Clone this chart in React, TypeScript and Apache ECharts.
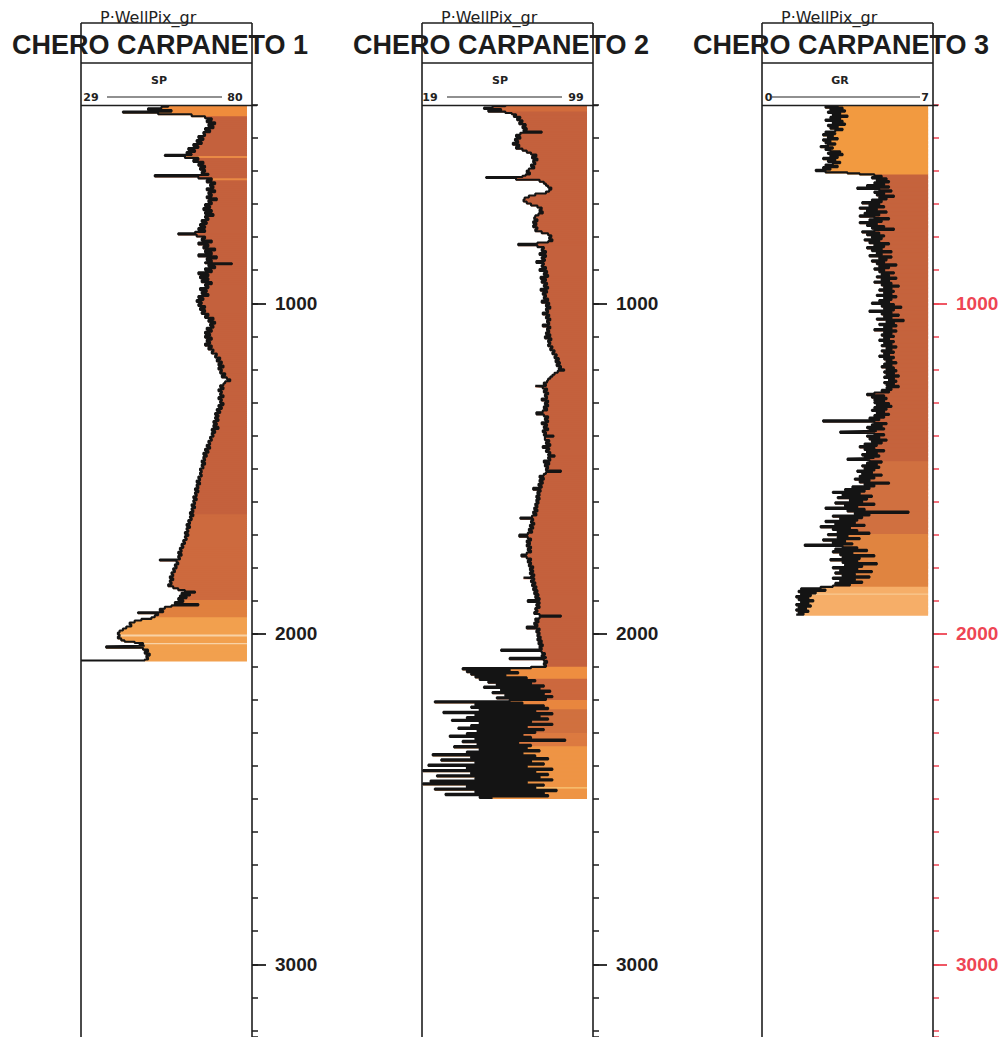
import React, { useEffect, useRef } from 'react';
import * as echarts from 'echarts';

// ---------- texts ----------
const PROJECT = 'P·WellPix_gr';
const WELLS = ['CHERO CARPANETO 1', 'CHERO CARPANETO 2', 'CHERO CARPANETO 3'];
const CURVES = ['SP', 'SP', 'GR'];
const SCALE_MIN = [29, 19, 0];
const SCALE_MAX = [80, 99, 7];
const FILL_LIMIT = [78.5, 96.2, 6.8];
const DEPTH_MIN = 400;
const DEPTH_MAX = 3220;
const DEPTH_STEP = 100;
const MAJOR_DEPTHS = [1000, 2000, 3000];

// ---------- curves: [depth m, value] ----------
const well1: [number, number][] = [
  [400,55],[405,53],[410,49],[415,56],[420,41.5],[423,52],[428,62],[434,66],[440,68],[446,66.5],[452,69],[458,67],[464,68.5],[470,66],[476,67.5],[482,65.5],[488,66],[494,64],[500,65.5],[506,63.5],[512,65],[518,62.5],[524,64],[530,61],[536,63],[542,60.5],[548,62],[551,54],[554,60],[560,64],[566,62.5],[572,65.5],[578,64],[584,66],[590,64.5],[596,66],[602,65],[608,67],[612,51],[616,64],[622,68],[628,66.5],[634,69],[640,67.5],[646,68.5],[652,66.5],[658,69],[664,67],[670,68],[676,66.5],[682,69.5],[688,67],[694,68],[700,66],[706,67.5],[712,65.5],[718,68],[724,66],[730,68.5],[736,66],[742,67],[748,65],[754,66.5],[760,64.5],[766,66],[772,64],[778,66],[784,63],[788,58],[792,63.5],[798,66],[804,65],[810,68],[816,64],[822,67],[828,65.5],[834,69],[840,66],[846,68],[852,64],[858,69.5],[864,66.5],[870,68],[876,66],[879,74],[882,67],[888,69],[894,66],[900,68],[906,64],[912,67],[918,64.5],[924,67],[930,65],[936,68],[942,66],[948,67],[954,64.5],[960,66.5],[966,65],[972,67],[978,64],[984,65.5],[990,63.5],[996,65],[1002,64],[1008,66],[1014,64.5],[1020,66],[1026,65],[1032,67],[1038,66],[1044,68.5],[1050,67],[1056,69],[1062,67.5],[1068,68.5],[1074,66.5],[1080,68],[1086,66],[1092,67.5],[1098,66],[1104,68],[1110,66.5],[1116,67.5],[1122,66],[1128,68],[1134,67],[1140,68.5],[1146,68],[1152,69.5],[1158,69],[1164,70.5],[1170,69.5],[1176,71],[1182,70],[1188,71.5],[1194,70],[1200,71],[1206,70.5],[1212,72],[1218,71],[1224,72.5],[1230,73.5],[1236,72],[1242,71.5],[1248,70.5],[1254,71.5],[1260,70],[1266,71],[1272,70.5],[1278,71.5],[1284,70],[1290,71],[1296,70.5],[1302,71.5],[1308,70],[1314,71],[1320,69.5],[1326,70.5],[1332,69],[1338,70],[1344,69],[1350,70],[1356,68.5],[1362,69.5],[1368,68.5],[1374,70],[1380,68],[1386,69],[1392,68],[1398,68.5],[1404,67.5],[1410,68],[1416,67],[1422,67.5],[1428,66.5],[1434,67.5],[1440,66],[1446,67],[1452,65.5],[1458,66.5],[1464,65.5],[1470,66],[1476,65],[1482,66],[1488,65],[1494,65.5],[1500,64.5],[1506,65],[1512,64.5],[1518,65],[1524,64],[1530,64.5],[1536,63.5],[1542,64.5],[1548,63.5],[1554,64],[1560,63],[1566,64],[1572,63],[1578,63.5],[1584,62.5],[1590,63.5],[1596,62.5],[1602,63],[1608,62],[1614,63],[1620,62],[1626,62.5],[1632,61.5],[1638,62.5],[1644,61.5],[1650,62],[1656,61],[1662,61.5],[1668,60.5],[1674,61.5],[1680,60.5],[1686,61],[1692,60],[1698,61],[1704,60],[1710,60.5],[1716,59.5],[1722,60],[1728,59],[1734,59.5],[1740,58.5],[1746,59],[1752,58],[1758,59],[1764,58],[1770,58.5],[1775,52.5],[1778,57.5],[1784,58],[1790,57],[1796,57.5],[1802,56.5],[1808,57],[1814,56],[1820,56.5],[1826,55.5],[1832,56.5],[1838,55.5],[1844,56],[1850,55],[1856,56.5],[1862,58],[1868,60],[1872,63],[1876,59],[1880,61.5],[1884,58.5],[1888,60.5],[1892,58],[1898,59.5],[1904,57],[1910,64],[1914,56],[1918,54],[1924,52.5],[1930,53.5],[1935,46],[1938,52],[1944,51],[1950,50],[1955,47],[1960,45],[1966,43.5],[1972,44],[1978,42.5],[1984,41.5],[1990,40.5],[1996,40],[2002,40.5],[2008,40],[2014,41],[2020,42],[2024,45],[2028,47.5],[2032,46.5],[2036,48],[2038,36.5],[2042,47.5],[2048,49],[2054,48],[2060,49.5],[2066,48.5],[2072,49],[2078,48],[2081,29]
];

const well2: [number, number][] = [
  [400,58],[404,52],[408,48],[412,56],[416,50],[420,58],[424,61],[428,63],[432,62],[436,65],[440,63.5],[446,66],[452,64.5],[458,67.5],[464,66],[470,68],[476,66.5],[480,75],[484,65],[490,63],[496,65],[502,62.5],[508,64],[514,61.5],[520,64.5],[526,63],[532,66],[538,68],[544,70],[550,72.5],[556,70.5],[562,73],[568,71],[574,72],[580,70],[586,71.5],[592,69],[598,68],[604,69.5],[610,67.5],[614,66],[618,49],[621,63],[626,74],[632,76],[638,77],[644,78],[650,79.5],[656,78.5],[662,77],[668,72],[674,69],[680,67],[686,66.5],[692,68],[698,70],[704,73],[710,75],[716,74],[722,75.5],[728,73.5],[734,72],[740,71.5],[746,73],[752,71],[758,72.5],[764,71],[770,73],[776,72],[782,75],[788,78],[794,79.5],[800,78.5],[806,80],[812,78],[816,73],[820,64],[824,73],[830,76],[836,75],[842,77],[848,74],[854,77],[860,75],[866,76.5],[872,72.5],[878,76],[884,75],[890,77],[896,74],[902,77.5],[908,76],[914,78],[920,74.5],[926,77],[932,75],[938,77.5],[944,76],[950,78],[956,74.5],[962,77.5],[968,75.5],[974,77],[980,76],[986,78],[992,75],[998,78.5],[1004,77],[1010,79],[1016,77],[1022,78],[1028,75.5],[1034,78.5],[1040,77],[1046,79],[1052,77.5],[1058,78.5],[1064,75.5],[1070,79],[1076,77.5],[1082,78.5],[1088,77],[1094,79],[1100,76.5],[1106,79.5],[1112,78],[1118,79],[1124,78],[1130,80],[1136,79],[1142,81],[1148,80],[1154,82],[1160,81],[1166,83],[1172,81.5],[1178,83.5],[1184,82],[1190,84],[1196,83],[1200,85.5],[1204,82.5],[1210,81],[1216,80],[1222,79],[1228,78],[1234,77.5],[1240,76],[1246,77],[1250,72],[1252,75.5],[1258,77.5],[1264,76],[1270,78],[1276,76.5],[1282,77.5],[1288,75],[1294,78],[1300,76.5],[1306,78],[1312,76],[1318,77.5],[1324,75.5],[1330,72.5],[1336,76],[1342,78],[1348,76.5],[1354,78],[1360,75],[1366,77.5],[1372,76],[1378,78],[1384,75.5],[1390,77],[1396,76],[1400,80.5],[1404,76.5],[1408,76.5],[1414,78.5],[1420,77],[1426,79],[1432,75.5],[1438,78.5],[1444,77],[1450,79],[1456,78],[1460,81],[1464,78],[1470,79],[1476,76],[1482,78.5],[1488,76.5],[1494,78],[1500,77],[1506,84],[1510,77],[1516,76],[1522,74],[1528,76],[1534,74],[1540,75.5],[1546,73.5],[1552,75],[1558,71],[1564,74.5],[1570,73],[1576,74],[1582,72.5],[1588,74],[1594,72.5],[1600,73.5],[1606,72],[1612,73],[1618,71.5],[1624,73],[1630,71],[1636,72.5],[1642,70.5],[1648,65],[1652,71],[1658,70],[1664,71.5],[1670,69.5],[1676,71],[1682,69],[1688,70.5],[1694,68.5],[1700,64.5],[1706,68.5],[1712,70],[1718,68],[1724,69.5],[1730,68],[1736,70],[1742,68.5],[1748,70],[1754,68],[1760,65.5],[1766,68],[1772,70],[1778,68.5],[1784,70],[1790,69],[1796,71],[1802,69.5],[1808,71],[1814,69.5],[1820,71.5],[1826,70],[1830,66.5],[1832,71.5],[1838,70],[1844,72],[1850,70.5],[1856,72.5],[1862,71],[1868,73],[1874,71.5],[1880,73.5],[1886,72],[1892,74],[1898,68.5],[1904,74],[1910,72.5],[1916,74],[1922,72],[1928,73],[1934,71.5],[1940,74],[1945,84],[1948,74],[1954,72],[1960,73.5],[1966,71.5],[1972,73],[1978,68],[1984,74],[1990,72.5],[1996,74],[2002,73],[2008,74.5],[2014,73],[2020,75],[2026,73.5],[2032,75.5],[2038,74],[2044,75],[2048,56],[2052,75],[2058,76.5],[2064,75],[2070,77],[2073,60],[2077,76],[2082,77.5],[2088,76],[2094,77],
  [2100,70],[2104,38],[2108,60],[2112,40],[2116,64],[2120,42],[2124,58],[2128,44],[2132,68],[2136,46],[2140,72],[2144,50],[2148,70],[2152,54],[2156,76],[2160,48],[2164,74],[2168,56],[2172,79],[2176,52],[2180,76],[2184,58],[2188,80],[2192,54],[2196,77],[2200,60],[2204,25],[2208,66],[2212,44],[2216,76],[2220,42],[2224,78],[2228,46],[2232,72],[2236,29],[2240,80],[2244,44],[2248,74],[2252,40],[2256,78],[2260,33],[2264,70],[2268,46],[2272,80],[2276,42],[2280,68],[2284,36],[2288,76],[2292,45],[2296,72],[2300,40],[2304,66],[2308,32],[2312,70],[2316,44],[2320,86],[2324,38],[2328,64],[2332,45],[2336,70],[2340,34],[2344,68],[2348,46],[2352,74],[2356,40],[2360,66],[2364,24],[2368,72],[2372,42],[2376,78],[2380,28],[2384,70],[2388,44],[2392,76],[2396,22],[2400,68],[2404,40],[2408,80],[2412,19.5],[2416,72],[2420,42],[2424,78],[2428,26],[2432,74],[2436,44],[2440,80],[2444,23],[2448,68],[2452,19.5],[2456,76],[2460,40],[2464,72],[2468,25],[2472,82],[2476,44],[2480,76],[2484,30],[2488,78],[2492,46],[2497,52]
];

const well3: [number, number][] = [
  [400,3.1],[404,2.6],[408,3.3],[412,2.8],[416,3.4],[420,2.7],[424,3.2],[428,2.9],[432,3.5],[436,2.8],[440,3.2],[444,2.6],[448,3.3],[452,2.9],[456,3.4],[460,2.7],[464,3.1],[468,2.8],[472,3.3],[476,3.0],[480,2.6],[484,3.0],[488,2.5],[492,2.9],[496,2.7],[500,3.1],[504,2.5],[508,2.8],[512,2.6],[516,3.0],[520,2.7],[524,2.4],[528,2.9],[532,2.6],[536,2.8],[540,3.2],[544,2.7],[548,3.3],[552,2.8],[556,3.1],[560,2.5],[564,3.0],[568,2.7],[572,3.2],[576,2.9],[580,2.6],[584,3.1],[588,2.5],[592,2.8],[596,2.2],[600,2.6],[604,3.5],[607,4.0],[610,4.6],[614,4.9],[618,4.5],[622,5.1],[626,4.7],[630,5.2],[634,4.6],[638,5.0],[642,4.3],[646,5.2],[650,3.9],[654,4.8],[658,5.3],[662,4.6],[666,5.0],[670,4.7],[674,5.4],[678,4.8],[682,5.1],[686,4.5],[690,4.9],[694,4.1],[698,4.8],[702,4.4],[706,5.0],[710,4.0],[714,4.7],[718,4.3],[722,5.1],[726,4.2],[730,4.8],[734,4.0],[738,4.6],[742,5.2],[746,4.4],[750,4.9],[754,4.0],[758,4.7],[762,4.3],[766,5.0],[770,4.5],[774,5.4],[778,4.6],[782,4.1],[786,4.8],[790,4.3],[794,5.0],[798,4.5],[802,4.9],[806,4.2],[810,4.8],[814,4.4],[818,5.2],[822,4.6],[826,5.0],[830,4.3],[834,4.9],[838,4.5],[842,5.3],[846,4.7],[850,4.9],[854,4.4],[858,5.3],[862,4.8],[866,5.1],[870,4.5],[874,5.0],[878,4.7],[882,5.5],[886,4.8],[890,5.2],[894,4.6],[898,5.0],[902,4.8],[906,5.4],[910,4.9],[914,5.2],[918,4.7],[922,5.5],[926,4.9],[930,5.2],[934,4.6],[938,5.3],[942,4.9],[946,5.6],[950,5.0],[954,5.3],[958,4.8],[962,5.4],[966,5.0],[970,5.3],[974,4.7],[978,5.5],[982,5.0],[986,5.3],[990,4.8],[994,5.2],[998,4.5],[1002,5.4],[1006,4.9],[1010,5.7],[1014,5.0],[1018,5.4],[1022,4.4],[1026,5.3],[1030,4.9],[1034,5.6],[1038,5.0],[1042,5.3],[1046,4.7],[1050,5.8],[1054,5.1],[1058,5.4],[1062,4.8],[1066,5.5],[1070,5.0],[1074,5.3],[1078,4.6],[1082,5.5],[1086,5.0],[1090,5.3],[1094,4.9],[1098,5.4],[1102,5.0],[1106,5.2],[1110,4.8],[1114,5.4],[1118,5.0],[1122,5.3],[1126,4.9],[1130,5.5],[1134,5.1],[1138,5.3],[1142,4.9],[1146,5.4],[1150,5.0],[1154,5.2],[1158,4.8],[1162,5.4],[1166,5.0],[1170,5.3],[1174,5.1],[1178,5.5],[1182,5.0],[1186,5.3],[1190,4.9],[1194,5.4],[1198,5.1],[1202,5.5],[1206,5.0],[1210,5.4],[1214,5.1],[1218,5.6],[1222,5.0],[1226,5.4],[1230,5.2],[1234,5.5],[1238,5.0],[1242,5.4],[1246,5.1],[1250,5.6],[1254,5.1],[1258,5.3],[1262,4.9],[1266,5.2],[1270,4.6],[1274,4.3],[1278,5.0],[1282,4.5],[1286,5.1],[1290,4.6],[1294,5.0],[1298,4.6],[1302,5.2],[1306,4.7],[1310,5.3],[1314,4.6],[1318,5.1],[1322,4.5],[1326,5.0],[1330,4.7],[1334,5.2],[1338,4.6],[1342,5.0],[1346,4.4],[1350,4.8],[1354,2.5],[1358,4.6],[1362,5.1],[1366,4.5],[1370,4.9],[1374,4.3],[1378,5.0],[1382,4.4],[1386,4.7],[1388,3.2],[1392,4.6],[1396,5.0],[1400,4.3],[1404,4.8],[1408,4.4],[1412,5.1],[1416,4.5],[1420,4.9],[1424,4.2],[1428,4.7],[1432,4.0],[1436,4.6],[1440,4.2],[1444,5.0],[1448,4.3],[1452,4.7],[1456,4.1],[1460,4.8],[1464,4.2],[1468,4.6],[1470,3.5],[1474,4.4],[1478,4.9],[1482,4.3],[1486,4.7],[1490,4.1],[1494,4.8],[1498,4.2],[1502,4.6],[1506,3.9],[1510,4.5],[1514,4.1],[1518,4.9],[1522,4.0],[1526,4.6],[1530,3.8],[1534,4.4],[1538,4.0],[1542,5.2],[1546,4.2],[1550,4.6],[1554,3.7],[1558,4.4],[1562,3.4],[1566,4.2],[1570,2.9],[1574,4.0],[1578,3.3],[1582,4.5],[1586,3.1],[1590,4.3],[1594,3.6],[1598,4.1],[1602,3.0],[1606,4.6],[1610,3.4],[1614,3.9],[1618,2.6],[1622,4.2],[1626,3.5],[1630,6.0],[1634,3.8],[1638,4.4],[1642,2.9],[1646,4.1],[1650,3.2],[1654,3.9],[1658,2.6],[1662,3.8],[1666,3.0],[1670,4.2],[1674,2.4],[1678,3.6],[1682,2.9],[1686,3.9],[1690,3.1],[1694,4.4],[1698,2.7],[1702,3.5],[1706,3.1],[1710,4.0],[1714,2.5],[1718,3.4],[1722,2.9],[1726,3.7],[1730,1.75],[1734,3.3],[1738,3.9],[1742,3.0],[1746,4.3],[1750,2.9],[1754,3.7],[1758,3.2],[1762,4.6],[1766,3.3],[1770,4.0],[1774,2.8],[1778,3.9],[1782,3.3],[1786,4.7],[1790,3.4],[1794,4.1],[1798,2.9],[1802,3.9],[1806,3.2],[1810,4.5],[1814,3.0],[1818,3.8],[1822,3.3],[1826,4.4],[1830,2.9],[1834,3.8],[1838,3.2],[1842,4.1],[1846,3.0],[1850,3.6],[1854,2.9],[1858,2.4],[1862,1.6],[1866,2.6],[1870,1.5],[1874,2.2],[1878,1.6],[1882,2.0],[1886,1.4],[1890,1.9],[1894,1.5],[1898,2.1],[1902,1.6],[1906,1.9],[1910,1.4],[1914,2.0],[1918,1.5],[1922,1.8],[1926,1.4],[1930,1.9],[1934,1.5],[1938,1.7],[1942,1.4]
];

// ---------- fill colour zones: [from depth, to depth, colour] (later entries win) ----------
const well1Colors: [number, number, string][] = [
  [400, 432, '#EF8C3C'], [432, 1640, '#C4613D'], [1640, 1900, '#CD6A3E'], [1900, 1950, '#E0803F'], [1950, 2085, '#F2A04E'],
  [556, 560, '#E98A45'], [622, 626, '#E98A45'], [1988, 1991, '#F8D2A6'], [2003, 2006, '#F8D2A6'], [2030, 2033, '#F8D2A6']
];
const well2Colors: [number, number, string][] = [
  [400, 2100, '#C4613D'], [400, 420, '#D26C3C'], [2100, 2135, '#EE8E40'], [2135, 2200, '#CC683E'], [2200, 2230, '#E8863F'],
  [2230, 2300, '#D0703F'], [2300, 2340, '#DC7A40'], [2340, 2500, '#EE9445'],
  [2216, 2218, '#F8C070'], [2316, 2318, '#F8C070'], [2466, 2468, '#F8C878']
];
const well3Colors: [number, number, string][] = [
  [400, 612, '#F29A40'], [612, 1480, '#C5633D'], [1480, 1700, '#D07040'], [1700, 1860, '#E08440'], [1860, 1945, '#F6AE68'],
  [1880, 1883, '#F8C890']
];

const CURVE_DATA = [well1, well2, well3];
const COLOR_ZONES = [well1Colors, well2Colors, well3Colors];

// ---------- layout ----------
const TRACK_LEFT = [81, 422, 762];
const TRACK_W = 171;
const GRID_TOP = 105;
const GRID_H = 932;
const AXIS_COLOR = ['#1d1d1d', '#1d1d1d', '#EE4553'];
// scale header geometry offsets: [leftTextCenter, lineStart, lineEnd, rightTextCenter]
const SCALE_GEOM = [[10, 26, 141, 154], [8, 25, 140, 154], [6.5, 10, 158, 163]];

function zoneColor(zones: [number, number, string][], d: number): string {
  let c = zones[0][2];
  for (const z of zones) if (d >= z[0] && d < z[1]) c = z[2];
  return c;
}

function buildOption() {
  const grid: any[] = [];
  const xAxis: any[] = [];
  const yAxis: any[] = [];
  const series: any[] = [];
  const graphic: any[] = [];

  CURVE_DATA.forEach((curve, i) => {
    const L = TRACK_LEFT[i];
    grid.push({ left: L, top: GRID_TOP, width: TRACK_W, height: GRID_H, containLabel: false });
    xAxis.push({ gridIndex: i, type: 'value', min: SCALE_MIN[i], max: SCALE_MAX[i], show: false });
    yAxis.push({
      gridIndex: i, type: 'value', inverse: true, min: DEPTH_MIN, max: DEPTH_MAX, interval: DEPTH_STEP,
      position: 'right', axisLine: { show: false, onZero: false },
      axisTick: { show: true, inside: false, length: 6, lineStyle: { color: AXIS_COLOR[i], width: 1.5 } },
      axisLabel: { show: false }, splitLine: { show: false }
    });
    yAxis.push({
      gridIndex: i, type: 'value', inverse: true, min: DEPTH_MIN, max: DEPTH_MAX,
      position: 'right', axisLine: { show: false, onZero: false },
      axisTick: { show: true, inside: false, length: 14, customValues: MAJOR_DEPTHS, lineStyle: { color: AXIS_COLOR[i], width: 1.8 } },
      axisLabel: {
        show: true, customValues: MAJOR_DEPTHS, margin: 23, fontSize: 19, fontWeight: 'bold',
        fontFamily: 'Liberation Sans, Arial, sans-serif', color: AXIS_COLOR[i],
        formatter: (v: number) => String(v)
      },
      splitLine: { show: false }
    });

    const zones = COLOR_ZONES[i];
    const fillData: number[][] = [];
    const fillColors: string[] = [];
    for (let k = 0; k < curve.length - 1; k++) {
      const d0 = curve[k][0];
      const d1 = curve[k + 1][0];
      fillData.push([curve[k][1], d0, d1]);
      fillColors.push(zoneColor(zones, (d0 + d1) / 2));
    }
    const limit = FILL_LIMIT[i];
    series.push({
      type: 'custom', xAxisIndex: i, yAxisIndex: 2 * i, data: fillData, silent: true, clip: true,
      encode: { x: 0, y: [1, 2] },
      renderItem: (params: any, api: any) => {
        const a = api.coord([api.value(0), api.value(1)]);
        const b = api.coord([limit, api.value(2)]);
        return {
          type: 'rect',
          shape: { x: a[0], y: a[1], width: b[0] - a[0], height: b[1] - a[1] + 1 },
          style: { fill: fillColors[params.dataIndex] }
        };
      },
      z: 2
    });
    series.push({
      type: 'line', xAxisIndex: i, yAxisIndex: 2 * i, data: curve.map(([d, v]) => [v, d]),
      step: 'start', symbol: 'none', showSymbol: false, silent: true,
      lineStyle: { color: '#141414', width: 2.1 }, z: 3
    });

    const R = L + TRACK_W;
    const g = SCALE_GEOM[i];
    // titles first (lines drawn on top)
    graphic.push({
      type: 'text', x: L + 79, y: 45, z: 10,
      style: { text: WELLS[i], fontSize: 27, fontWeight: 'bold', fontFamily: 'Liberation Sans, Arial, sans-serif', fill: '#1c1c1c', align: 'center', verticalAlign: 'middle' }
    });
    graphic.push({
      type: 'text', x: L + 19, y: 17, z: 10,
      style: { text: PROJECT, fontSize: 16, fontFamily: 'DejaVu Sans, sans-serif', fill: '#222', align: 'left', verticalAlign: 'middle' }
    });
    graphic.push({
      type: 'text', x: L + 78, y: 80, z: 10,
      style: { text: CURVES[i], fontSize: 11, fontWeight: 'bold', fontFamily: 'DejaVu Sans, sans-serif', fill: '#222', align: 'center', verticalAlign: 'middle' }
    });
    graphic.push({
      type: 'text', x: L + g[0], y: 97, z: 10,
      style: { text: String(SCALE_MIN[i]), fontSize: 11, fontWeight: 'bold', fontFamily: 'DejaVu Sans, sans-serif', fill: '#222', align: 'center', verticalAlign: 'middle' }
    });
    graphic.push({
      type: 'text', x: L + g[3], y: 97, z: 10,
      style: { text: String(SCALE_MAX[i]), fontSize: 11, fontWeight: 'bold', fontFamily: 'DejaVu Sans, sans-serif', fill: '#222', align: 'center', verticalAlign: 'middle' }
    });
    graphic.push({ type: 'line', z: 11, shape: { x1: L + g[1], y1: 97, x2: L + g[2], y2: 97 }, style: { stroke: '#222', lineWidth: 1.2 } });
    const box = { stroke: '#1e1e1e', lineWidth: 1.6 };
    graphic.push({ type: 'line', z: 11, shape: { x1: L, y1: 23, x2: R, y2: 23 }, style: box });
    graphic.push({ type: 'line', z: 11, shape: { x1: L, y1: 63, x2: R, y2: 63 }, style: box });
    graphic.push({ type: 'line', z: 11, shape: { x1: L, y1: 105.5, x2: R + 5, y2: 105.5 }, style: box });
    graphic.push({ type: 'line', z: 11, shape: { x1: L, y1: 23, x2: L, y2: 1037 }, style: box });
    graphic.push({ type: 'line', z: 11, shape: { x1: R, y1: 23, x2: R, y2: 1037 }, style: box });
  });

  return { animation: false, backgroundColor: '#ffffff', grid, xAxis, yAxis, series, graphic };
}

export default function App() {
  const ref = useRef<HTMLDivElement>(null);
  useEffect(() => {
    if (!ref.current) return;
    const chart = echarts.init(ref.current, undefined, { renderer: 'svg' });
    chart.setOption(buildOption() as any);
    return () => chart.dispose();
  }, []);
  return <div ref={ref} style={{ position: 'absolute', left: 0, top: 0, width: 1004, height: 1037, background: '#fff' }} />;
}
